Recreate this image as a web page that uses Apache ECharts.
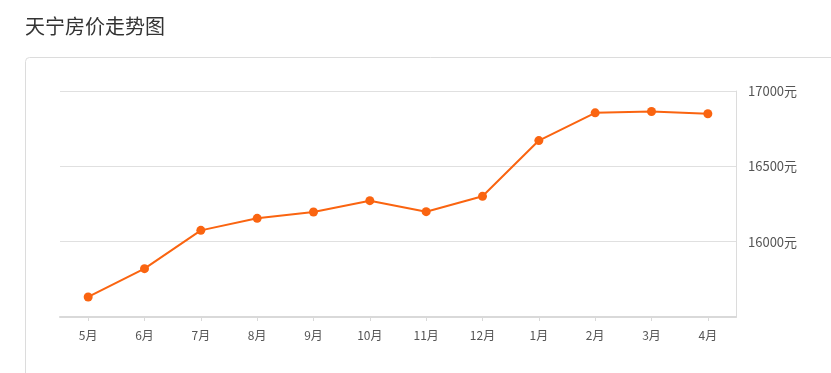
<!DOCTYPE html>
<html>
<head>
<meta charset="utf-8">
<script src="https://cdn.jsdelivr.net/npm/echarts@6/dist/echarts.min.js"></script>
<style>
html,body{margin:0;padding:0;background:#fff;}
#c{width:831px;height:373px;}
</style>
</head>
<body>
<div id="c"></div>
<script>
var titleText = '天宁房价走势图';
var months = ['5月','6月','7月','8月','9月','10月','11月','12月','1月','2月','3月','4月'];
var prices = [15633, 15821, 16075, 16155, 16197, 16272, 16199, 16301, 16671, 16855, 16864, 16849];
var yMin = 15500, yMax = 17000, yStep = 500;

var chart = echarts.init(document.getElementById('c'), null, {renderer: 'canvas'});
var font = '"Noto Sans CJK SC", "Noto Sans", sans-serif';
chart.setOption({
  animation: false,
  title: {
    text: titleText,
    left: 20, top: 11,
    textStyle: {fontSize: 20, fontWeight: 'normal', color: '#333', fontFamily: font}
  },
  graphic: [{
    type: 'rect',
    shape: {x: 25.5, y: 57.5, width: 900, height: 400, r: 4},
    style: {fill: 'none', stroke: '#dcdcdc', lineWidth: 1},
    silent: true, z: -10
  }],
  grid: {left: 60, right: 95, top: 91, bottom: 56},
  xAxis: {
    type: 'category',
    data: months,
    boundaryGap: true,
    axisLine: {show: true, lineStyle: {color: '#d9d9d9', width: 2}},
    axisTick: {show: true, alignWithLabel: true, length: 4, lineStyle: {color: '#d9d9d9'}},
    axisLabel: {color: '#555', fontSize: 12, margin: 12, fontFamily: font},
    splitLine: {show: false}
  },
  yAxis: {
    type: 'value',
    position: 'right',
    min: yMin, max: yMax, interval: yStep,
    axisLine: {show: true, lineStyle: {color: '#dcdcdc', width: 1}},
    axisTick: {show: false},
    axisLabel: {color: '#555', fontSize: 13, margin: 12, fontFamily: font, showMinLabel: false,
      formatter: function(v){ return v + '元'; }},
    splitLine: {show: true, lineStyle: {color: '#e0e0e0', width: 1}}
  },
  series: [{
    type: 'line',
    data: prices,
    symbol: 'circle',
    symbolSize: 9,
    lineStyle: {color: '#fa6410', width: 2},
    itemStyle: {color: '#fa6410'}
  }]
});
</script>
</body>
</html>
